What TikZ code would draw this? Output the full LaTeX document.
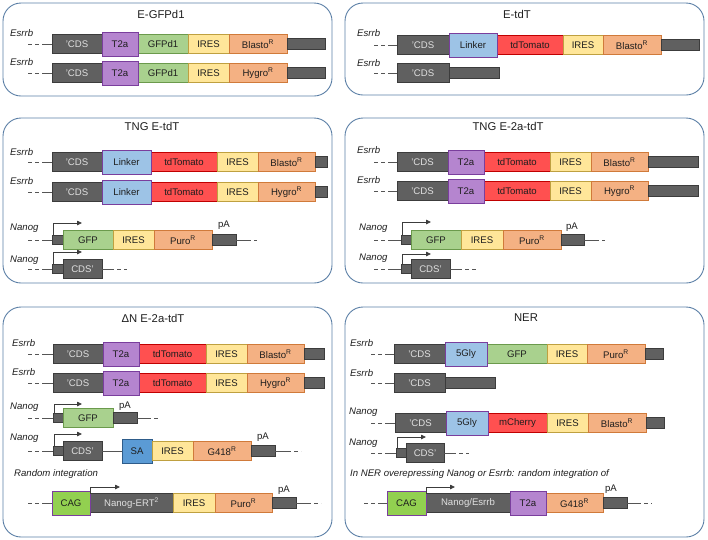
\documentclass[tikz,border=0pt]{standalone}
\usepackage{fontspec}
\setmainfont{Liberation Sans}
\usetikzlibrary{arrows.meta}
\definecolor{cdsfill}{HTML}{606060}
\definecolor{cdsdraw}{HTML}{3C3C3C}
\definecolor{cdstext}{HTML}{E0E0E0}
\definecolor{t2afill}{HTML}{B585CF}
\definecolor{purpleb}{HTML}{7A3E9D}
\definecolor{linkfill}{HTML}{9DC3E6}
\definecolor{gfpfill}{HTML}{A9D18E}
\definecolor{gfpdraw}{HTML}{6B9A4C}
\definecolor{iresfill}{HTML}{FFE699}
\definecolor{iresdraw}{HTML}{BFA040}
\definecolor{resfill}{HTML}{F4B183}
\definecolor{resdraw}{HTML}{D07A3A}
\definecolor{tdfill}{HTML}{FF5050}
\definecolor{tddraw}{HTML}{C00000}
\definecolor{safill}{HTML}{5B9BD5}
\definecolor{sadraw}{HTML}{2E5C8A}
\definecolor{cagfill}{HTML}{92D050}
\definecolor{panelc}{HTML}{5B7FA6}
\definecolor{txt}{HTML}{1E1E1E}
\definecolor{leadc}{HTML}{555555}
\newcommand{\fs}{\fontsize{9.6}{11}\selectfont}
\newcommand{\ftitle}{\fontsize{11.3}{13}\selectfont}
\tikzset{
  seg/.style={draw, line width=0.8pt, inner sep=0pt, outer sep=0pt, font=\fs, text=txt, minimum height=19pt},
  cds/.style={seg, fill=cdsfill, draw=cdsdraw, text=cdstext},
  tailbox/.style={cds, minimum height=11pt},
  stub/.style={cds, minimum height=9pt},
  t2a/.style={seg, fill=t2afill, draw=purpleb, minimum height=24pt},
  linker/.style={seg, fill=linkfill, draw=purpleb, minimum height=24pt},
  gfp/.style={seg, fill=gfpfill, draw=gfpdraw},
  ires/.style={seg, fill=iresfill, draw=iresdraw},
  res/.style={seg, fill=resfill, draw=resdraw},
  redbox/.style={seg, fill=tdfill, draw=tddraw},
  sabox/.style={seg, fill=safill, draw=sadraw, minimum height=24pt},
  cag/.style={seg, fill=cagfill, draw=purpleb, minimum height=24pt},
  panel/.style={draw=panelc, line width=0.9pt, rounded corners=18pt},
  ptitle/.style={font=\ftitle, text=txt},
  gene/.style={font=\fs\itshape, text=txt, anchor=west, inner sep=0pt},
  note/.style={font=\fs\itshape, text=txt, anchor=west, inner sep=0pt},
  palabel/.style={font=\fs, text=txt, inner sep=0pt},
  lead/.style={draw=leadc, line width=0.8pt},
  leaddash/.style={lead, dash pattern=on 4pt off 3pt},
  prom/.style={draw=cdsdraw, line width=0.8pt, -{Triangle[length=5pt,width=4.5pt]}},
}
\newcommand{\Seg}[6]{\node[#2, minimum width=#4pt-#3pt, anchor=west] (#1) at (#3,#5) {#6};}
\newcommand{\LeadIn}[3]{\coordinate (#1-l0) at (#2,#3); \coordinate (#1-l1) at (#2+14,#3);
  \draw[leaddash] (#1-l0) -- (#1-l1); \draw[lead] (#1-l1) -- (#1.west);}
\newcommand{\LeadOut}[4]{\coordinate (#1-r1) at (#3,#2); \coordinate (#1-r2) at (#4,#2);
  \draw[lead] (#1.east) -- (#1-r1); \draw[leaddash] (#1-r1) -- (#1-r2);}
\newcommand{\Prom}[3]{\coordinate (#1-pt) at (#2,#3); \draw[prom] ([xshift=1pt]#1.north west) |- (#1-pt);}
\begin{document}
\begin{tikzpicture}[x=1pt,y=-1pt]
\useasboundingbox (0,0) rectangle (708,539);
% ---------------- Panel 1
\draw[panel] (3,3) rectangle (332,96);
\node[ptitle] (t1) at (161,14) {E-GFPd1};
\node[gene] (g1a) at (10,33) {Esrrb};
\Seg{a1}{cds}{52}{102}{44}{'CDS}
\Seg{a3}{gfp}{138}{188}{44}{GFPd1}
\Seg{a4}{ires}{188}{229}{44}{IRES}
\Seg{a5}{res}{229}{287}{44}{Blasto\textsuperscript{R}}
\Seg{a6}{tailbox}{287}{325}{44}{}
\Seg{a2}{t2a}{102}{138}{44}{T2a}
\LeadIn{a1}{28}{44}
\node[gene] (g1b) at (10,62) {Esrrb};
\Seg{b1}{cds}{52}{102}{73}{'CDS}
\Seg{b3}{gfp}{138}{188}{73}{GFPd1}
\Seg{b4}{ires}{188}{229}{73}{IRES}
\Seg{b5}{res}{229}{287}{73}{Hygro\textsuperscript{R}}
\Seg{b6}{tailbox}{287}{325}{73}{}
\Seg{b2}{t2a}{102}{138}{73}{T2a}
\LeadIn{b1}{28}{73}
% ---------------- Panel 2
\draw[panel] (345,3) rectangle (704,95);
\node[ptitle] (t2) at (517,14) {E-tdT};
\node[gene] (g2a) at (357,33) {Esrrb};
\Seg{c1}{cds}{397}{449}{45}{'CDS}
\Seg{c3}{redbox}{497}{563}{45}{tdTomato}
\Seg{c4}{ires}{563}{603}{45}{IRES}
\Seg{c5}{res}{603}{661}{45}{Blasto\textsuperscript{R}}
\Seg{c6}{tailbox}{661}{699}{45}{}
\Seg{c2}{linker}{449}{497}{45}{Linker}
\LeadIn{c1}{374}{45}
\node[gene] (g2b) at (357,63) {Esrrb};
\Seg{d1}{cds}{397}{449}{73}{'CDS}
\Seg{d2}{tailbox}{449}{499}{73}{}
\LeadIn{d1}{374}{73}
% ---------------- Panel 3
\draw[panel] (3,118) rectangle (332,283);
\node[ptitle] (t3) at (152,126) {TNG E-tdT};
\node[gene] (g3a) at (10,152) {Esrrb};
\Seg{e1}{cds}{52}{102}{162}{'CDS}
\Seg{e3}{redbox}{151}{217}{162}{tdTomato}
\Seg{e4}{ires}{217}{258}{162}{IRES}
\Seg{e5}{res}{258}{315}{162}{Blasto\textsuperscript{R}}
\Seg{e6}{tailbox}{315}{327}{162}{}
\Seg{e2}{linker}{102}{151}{162}{Linker}
\LeadIn{e1}{28}{162}
\node[gene] (g3b) at (10,181) {Esrrb};
\Seg{f1}{cds}{52}{102}{192}{'CDS}
\Seg{f3}{redbox}{151}{217}{192}{tdTomato}
\Seg{f4}{ires}{217}{258}{192}{IRES}
\Seg{f5}{res}{258}{315}{192}{Hygro\textsuperscript{R}}
\Seg{f6}{tailbox}{315}{327}{192}{}
\Seg{f2}{linker}{102}{151}{192}{Linker}
\LeadIn{f1}{28}{192}
\node[gene] (g3c) at (10,228) {Nanog};
\Seg{h0}{stub}{52}{63}{240}{}
\Seg{h1}{gfp}{63}{113}{240}{GFP}
\Seg{h2}{ires}{113}{154}{240}{IRES}
\Seg{h3}{res}{154}{212}{240}{Puro\textsuperscript{R}}
\Seg{h4}{tailbox}{212}{236}{240}{}
\node[palabel] (pa3) at (224,225) {pA};
\LeadIn{h0}{28}{240}
\LeadOut{h4}{240}{247}{257}
\Prom{h0}{82}{223}
\node[gene] (g3d) at (10,260) {Nanog};
\Seg{i0}{stub}{52}{63}{269}{}
\Seg{i1}{cds}{63}{102}{269}{CDS'}
\LeadIn{i0}{28}{269}
\LeadOut{i1}{269}{110}{127}
\Prom{i0}{82}{252}
% ---------------- Panel 4
\draw[panel] (345,118) rectangle (704,283);
\node[ptitle] (t4) at (508,126) {TNG E-2a-tdT};
\node[gene] (g4a) at (357,150) {Esrrb};
\Seg{j1}{cds}{397}{448}{162}{'CDS}
\Seg{j3}{redbox}{484}{550}{162}{tdTomato}
\Seg{j4}{ires}{550}{591}{162}{IRES}
\Seg{j5}{res}{591}{648}{162}{Blasto\textsuperscript{R}}
\Seg{j6}{tailbox}{648}{698}{162}{}
\Seg{j2}{t2a}{448}{484}{162}{T2a}
\LeadIn{j1}{374}{162}
\node[gene] (g4b) at (357,180) {Esrrb};
\Seg{k1}{cds}{397}{448}{191}{'CDS}
\Seg{k3}{redbox}{484}{550}{191}{tdTomato}
\Seg{k4}{ires}{550}{591}{191}{IRES}
\Seg{k5}{res}{591}{648}{191}{Hygro\textsuperscript{R}}
\Seg{k6}{tailbox}{648}{698}{191}{}
\Seg{k2}{t2a}{448}{484}{191}{T2a}
\LeadIn{k1}{374}{191}
\node[gene] (g4c) at (359,228) {Nanog};
\Seg{m0}{stub}{401}{411}{240}{}
\Seg{m1}{gfp}{411}{461}{240}{GFP}
\Seg{m2}{ires}{461}{503}{240}{IRES}
\Seg{m3}{res}{503}{561}{240}{Puro\textsuperscript{R}}
\Seg{m4}{tailbox}{561}{584}{240}{}
\node[palabel] (pa4) at (572,227) {pA};
\LeadIn{m0}{374}{240}
\LeadOut{m4}{240}{595}{605}
\Prom{m0}{431}{222}
\node[gene] (g4d) at (359,258) {Nanog};
\Seg{n0}{stub}{401}{411}{269}{}
\Seg{n1}{cds}{411}{450}{269}{CDS'}
\LeadIn{n0}{374}{269}
\LeadOut{n1}{269}{458}{476}
\Prom{n0}{431}{254}
% ---------------- Panel 5
\draw[panel] (3,307) rectangle (332,537);
\node[ptitle] (t5) at (153,318) {ΔN E-2a-tdT};
\node[gene] (g5a) at (12,343) {Esrrb};
\Seg{p1}{cds}{53}{103}{354}{'CDS}
\Seg{p3}{redbox}{139}{206}{354}{tdTomato}
\Seg{p4}{ires}{206}{247}{354}{IRES}
\Seg{p5}{res}{247}{304}{354}{Blasto\textsuperscript{R}}
\Seg{p6}{tailbox}{304}{324}{354}{}
\Seg{p2}{t2a}{103}{139}{354}{T2a}
\LeadIn{p1}{28}{354}
\node[gene] (g5b) at (12,372) {Esrrb};
\Seg{q1}{cds}{53}{103}{383}{'CDS}
\Seg{q3}{redbox}{139}{206}{383}{tdTomato}
\Seg{q4}{ires}{206}{247}{383}{IRES}
\Seg{q5}{res}{247}{304}{383}{Hygro\textsuperscript{R}}
\Seg{q6}{tailbox}{304}{324}{383}{}
\Seg{q2}{t2a}{103}{139}{383}{T2a}
\LeadIn{q1}{28}{383}
\node[gene] (g5c) at (10,407) {Nanog};
\Seg{r0}{stub}{53}{63}{418}{}
\Seg{r1}{gfp}{63}{113}{418}{GFP}
\Seg{r2}{tailbox}{113}{137}{418}{}
\node[palabel] (pa5a) at (125,406) {pA};
\LeadIn{r0}{28}{418}
\LeadOut{r2}{418}{147}{158}
\Prom{r0}{82}{404}
\node[gene] (g5d) at (10,438) {Nanog};
\Seg{s0}{stub}{53}{63}{451}{}
\Seg{s1}{cds}{63}{102}{451}{CDS'}
\Seg{s2}{sabox}{122}{152}{451}{SA}
\Seg{s3}{ires}{152}{193}{451}{IRES}
\Seg{s4}{res}{193}{251}{451}{G418\textsuperscript{R}}
\Seg{s5}{tailbox}{251}{275}{451}{}
\node[palabel] (pa5b) at (263,437) {pA};
\draw[lead] (s1) -- (s2);
\LeadIn{s0}{28}{451}
\LeadOut{s5}{451}{287}{301}
\Prom{s0}{82}{434}
\node[note] (ri) at (14,474) {Random integration};
\Seg{u2}{cds}{90}{173}{503}{Nanog-ERT\textsuperscript{2}}
\Seg{u3}{ires}{173}{215}{503}{IRES}
\Seg{u4}{res}{215}{272}{503}{Puro\textsuperscript{R}}
\Seg{u5}{tailbox}{272}{296}{503}{}
\Seg{u1}{cag}{52}{90}{503}{CAG}
\node[palabel] (pa5c) at (284,490) {pA};
\LeadIn{u1}{28}{503}
\LeadOut{u5}{503}{307}{321}
\coordinate (u2-pt) at (120,487);
\draw[prom] ([xshift=0.5pt]u2.north west) |- (u2-pt);
% ---------------- Panel 6
\draw[panel] (345,307) rectangle (704,537);
\node[ptitle] (t6) at (526,318) {NER};
\node[gene] (g6a) at (350,343) {Esrrb};
\Seg{v1}{cds}{394}{445}{354}{'CDS}
\Seg{v3}{gfp}{487}{547}{354}{GFP}
\Seg{v4}{ires}{547}{587}{354}{IRES}
\Seg{v5}{res}{587}{645}{354}{Puro\textsuperscript{R}}
\Seg{v6}{tailbox}{645}{663}{354}{}
\Seg{v2}{linker}{445}{487}{354}{5Gly}
\LeadIn{v1}{371}{354}
\node[gene] (g6b) at (350,373) {Esrrb};
\Seg{w1}{cds}{394}{445}{383}{'CDS}
\Seg{w2}{tailbox}{445}{495}{383}{}
\LeadIn{w1}{371}{383}
\node[gene] (g6c) at (349,412) {Nanog};
\Seg{x1}{cds}{395}{446}{423}{'CDS}
\Seg{x3}{redbox}{488}{547}{423}{mCherry}
\Seg{x4}{ires}{547}{588}{423}{IRES}
\Seg{x5}{res}{588}{646}{423}{Blasto\textsuperscript{R}}
\Seg{x6}{tailbox}{646}{664}{423}{}
\Seg{x2}{linker}{446}{488}{423}{5Gly}
\LeadIn{x1}{371}{423}
\node[gene] (g6d) at (349,443) {Nanog};
\Seg{y0}{stub}{396}{406}{453}{}
\Seg{y1}{cds}{406}{444}{453}{CDS'}
\LeadIn{y0}{371}{453}
\LeadOut{y1}{453}{452}{469}
\Prom{y0}{426}{437}
\node[note] (ner) at (350,474) {In NER overepressing Nanog or Esrrb: random integration of};
\Seg{z2}{cds}{426}{510}{503}{Nanog/Esrrb}
\Seg{z4}{res}{546}{603}{503}{G418\textsuperscript{R}}
\Seg{z5}{tailbox}{603}{627}{503}{}
\Seg{z3}{t2a}{510}{546}{503}{T2a}
\Seg{z1}{cag}{387}{426}{503}{CAG}
\node[palabel] (pa6) at (611,489) {pA};
\LeadIn{z1}{364}{503}
\LeadOut{z5}{503}{637}{652}
\coordinate (z2-pt) at (455,487);
\draw[prom] ([xshift=0.5pt]z2.north west) |- (z2-pt);
\end{tikzpicture}
\end{document}
